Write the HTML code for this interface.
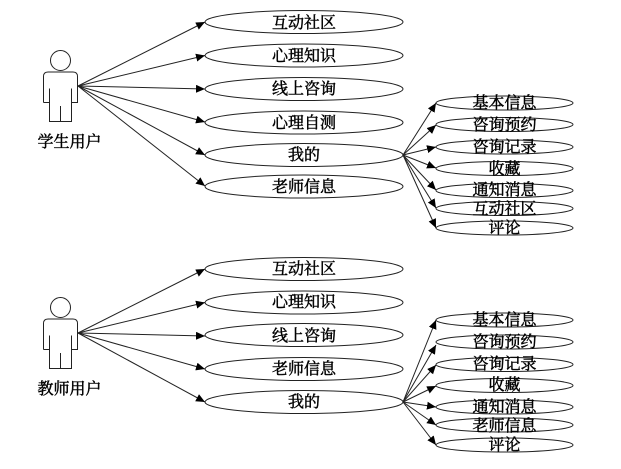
<!DOCTYPE html>
<html><head><meta charset="utf-8"><style>
html,body{margin:0;padding:0;background:#fff}
svg{display:block}
text{font-family:"Liberation Serif","Noto Serif CJK SC",serif;font-size:16px;fill:#000;text-anchor:middle;stroke:#000;stroke-width:.45px}
ellipse{fill:none;stroke:#222;stroke-width:1}
.l{stroke:#222;stroke-width:1;fill:none;marker-end:url(#a)}
.s{stroke:#222;stroke-width:1;fill:none}
</style></head><body>
<svg width="621" height="469" viewBox="0 0 621 469" xmlns="http://www.w3.org/2000/svg">
<defs><marker id="a" markerUnits="userSpaceOnUse" markerWidth="12" markerHeight="10" refX="9" refY="4" orient="auto"><path d="M0,0L9,4L0,8Z" fill="#000"/></marker>
<g id="actor"><circle cx="60.5" cy="60.5" r="10" class="s"/><path class="s" d="M43.5,102.5V76.5Q43.5,72 48,72H73Q77.5,72 77.5,76.5V102.5H71.5V88.5M71.5,102.5V121.5H49.5V88.5M49.5,102.5H43.5M60.5,106V121.5"/></g></defs>
<use href="#actor"/>
<use href="#actor" y="247"/>
<g>
<ellipse cx="304" cy="22" rx="99" ry="11.5"/>
<ellipse cx="304" cy="55.5" rx="99" ry="11.5"/>
<ellipse cx="304" cy="89" rx="99" ry="11.5"/>
<ellipse cx="304" cy="122.5" rx="99" ry="11.5"/>
<ellipse cx="304" cy="155" rx="99" ry="11.5"/>
<ellipse cx="304" cy="186.5" rx="99" ry="11.5"/>
<ellipse cx="304" cy="269" rx="99" ry="11.5"/>
<ellipse cx="304" cy="302.5" rx="99" ry="11.5"/>
<ellipse cx="304" cy="335" rx="99" ry="11.5"/>
<ellipse cx="304" cy="369" rx="99" ry="11.5"/>
<ellipse cx="304" cy="402" rx="99" ry="11.5"/>
<ellipse cx="504.5" cy="103" rx="68.5" ry="7"/>
<ellipse cx="504.5" cy="124.5" rx="68.5" ry="7"/>
<ellipse cx="504.5" cy="147" rx="68.5" ry="7"/>
<ellipse cx="504.5" cy="168.5" rx="68.5" ry="7"/>
<ellipse cx="504.5" cy="190.5" rx="68.5" ry="7"/>
<ellipse cx="504.5" cy="208.5" rx="68.5" ry="7"/>
<ellipse cx="504.5" cy="228" rx="68.5" ry="7"/>
<ellipse cx="504.5" cy="320" rx="68.5" ry="7"/>
<ellipse cx="504.5" cy="342" rx="68.5" ry="7"/>
<ellipse cx="504.5" cy="364.5" rx="68.5" ry="7"/>
<ellipse cx="504.5" cy="385.5" rx="68.5" ry="7"/>
<ellipse cx="504.5" cy="407" rx="68.5" ry="7"/>
<ellipse cx="504.5" cy="425" rx="68.5" ry="7"/>
<ellipse cx="504.5" cy="445" rx="68.5" ry="7"/>
</g>
<g>
<line class="l" x1="78" y1="86" x2="205" y2="22"/>
<line class="l" x1="78" y1="86" x2="205" y2="55.5"/>
<line class="l" x1="78" y1="86" x2="205" y2="89"/>
<line class="l" x1="78" y1="86" x2="205" y2="122"/>
<line class="l" x1="78" y1="86" x2="205" y2="155"/>
<line class="l" x1="78" y1="86" x2="205" y2="186"/>
<line class="l" x1="78" y1="333" x2="205" y2="269"/>
<line class="l" x1="78" y1="333" x2="205" y2="302.5"/>
<line class="l" x1="78" y1="333" x2="205" y2="336"/>
<line class="l" x1="78" y1="333" x2="205" y2="369"/>
<line class="l" x1="78" y1="333" x2="205" y2="402"/>
<line class="l" x1="403" y1="155" x2="436" y2="103"/>
<line class="l" x1="403" y1="155" x2="436" y2="125"/>
<line class="l" x1="403" y1="155" x2="436" y2="147"/>
<line class="l" x1="403" y1="155" x2="436" y2="168"/>
<line class="l" x1="403" y1="155" x2="436" y2="190"/>
<line class="l" x1="403" y1="155" x2="436" y2="208"/>
<line class="l" x1="403" y1="155" x2="436" y2="228"/>
<line class="l" x1="403" y1="402" x2="436" y2="320"/>
<line class="l" x1="403" y1="402" x2="436" y2="345"/>
<line class="l" x1="403" y1="402" x2="436" y2="365"/>
<line class="l" x1="403" y1="402" x2="436" y2="386"/>
<line class="l" x1="403" y1="402" x2="436" y2="407"/>
<line class="l" x1="403" y1="402" x2="436" y2="425"/>
<line class="l" x1="403" y1="402" x2="436" y2="445"/>
</g>
<g>
<text x="69.5" y="147">学生用户</text>
<text x="69.5" y="394">教师用户</text>
<text x="304" y="28">互动社区</text>
<text x="304" y="61">心理知识</text>
<text x="304" y="94">线上咨询</text>
<text x="304" y="128">心理自测</text>
<text x="304" y="160">我的</text>
<text x="304" y="192">老师信息</text>
<text x="304" y="274">互动社区</text>
<text x="304" y="307">心理知识</text>
<text x="304" y="341">线上咨询</text>
<text x="304" y="374">老师信息</text>
<text x="304" y="407">我的</text>
<text x="504.5" y="108">基本信息</text>
<text x="504.5" y="130">咨询预约</text>
<text x="504.5" y="152">咨询记录</text>
<text x="504.5" y="174">收藏</text>
<text x="504.5" y="195">通知消息</text>
<text x="504.5" y="214">互动社区</text>
<text x="504.5" y="233">评论</text>
<text x="504.5" y="325">基本信息</text>
<text x="504.5" y="347">咨询预约</text>
<text x="504.5" y="369">咨询记录</text>
<text x="504.5" y="390">收藏</text>
<text x="504.5" y="412">通知消息</text>
<text x="504.5" y="431">老师信息</text>
<text x="504.5" y="450">评论</text>
</g>
</svg>
</body></html>
